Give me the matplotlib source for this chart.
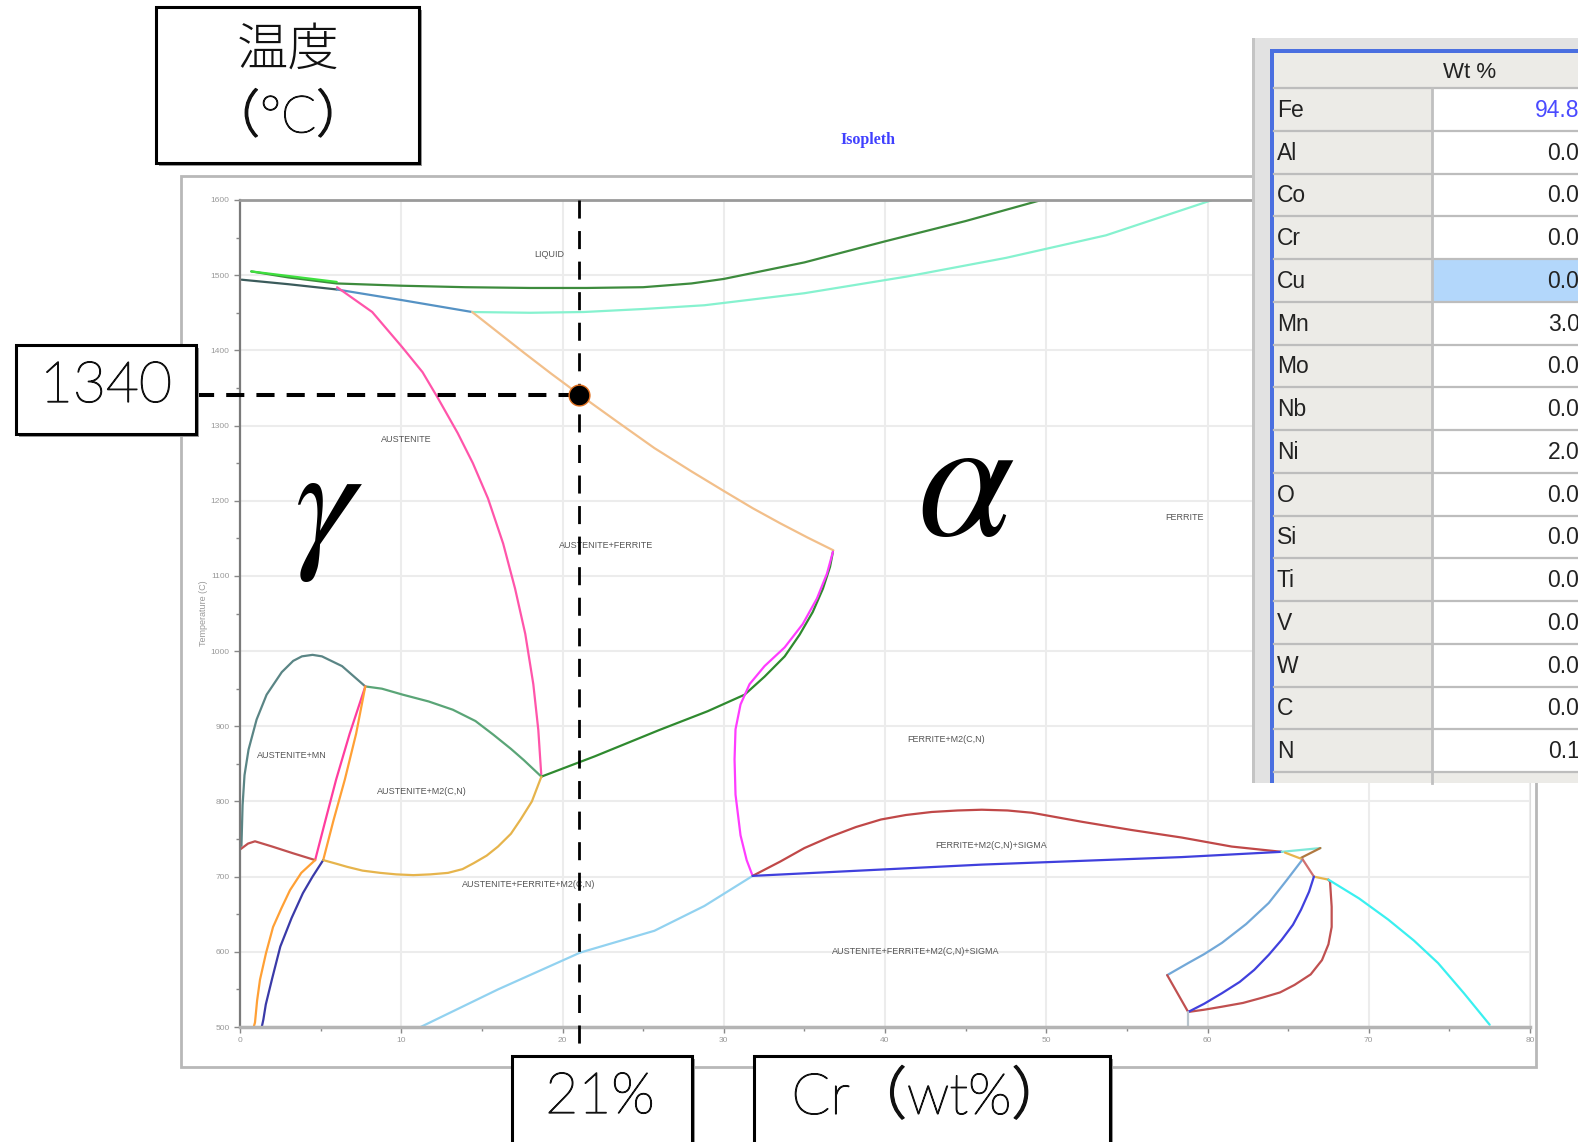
import numpy as np
import matplotlib
matplotlib.use("Agg")
import matplotlib.pyplot as plt
import matplotlib.patheffects as pe
from matplotlib.patches import Rectangle

plt.rcParams['font.family'] = ['Liberation Sans', 'Noto Sans CJK JP', 'DejaVu Sans']
plt.rcParams['mathtext.fontset'] = 'stix'

W, H = 1578, 1142

# phase boundaries: Cr (wt%) vs temperature (C)
liq_x = [0.7, 3, 6, 10, 14, 18, 21.5, 25, 28, 30, 35, 40, 45, 49.7]
liq_t = [1505, 1497, 1489, 1486, 1484, 1483, 1483, 1484, 1489, 1495, 1517, 1545, 1572, 1600]
liq2_x = [0.7, 6]
liq2_t = [1505, 1491]
sol1_x = [0.1, 3, 6.0]
sol1_t = [1494, 1488, 1481]
sol2_x = [6.0, 10, 14.4]
sol2_t = [1481, 1467, 1451]
delta_x = [14.4, 18, 21.3, 25, 28.8, 35, 41.3, 47.5, 53.7, 60.3]
delta_t = [1451, 1450, 1451, 1455, 1460, 1476, 1498, 1523, 1553, 1600]
fer_x = [14.4, 16.0, 17.6, 19.3, 21, 23.4, 25.7, 28.0, 30, 31.8, 33.5, 35.2, 36.8]
fer_t = [1451, 1424, 1397, 1369, 1342, 1305, 1270, 1239, 1213, 1190, 1170, 1151, 1134]
aus_x = [6.02, 8.2, 10.07, 11.32, 12.26, 13.5, 14.44, 15.38, 16.32, 17.06, 17.69, 18.19, 18.5, 18.69]
aus_t = [1484, 1451, 1404, 1371, 1337, 1290, 1250, 1203, 1143, 1083, 1023, 956, 895, 833]
fm_x = [18.69, 22, 26, 29, 31.29, 32.53, 33.78, 34.71, 35.52, 36.15, 36.59, 36.77]
fm_t = [833, 860, 895, 920, 942, 966, 993, 1022, 1052, 1083, 1112, 1132]
mag_x = [36.77, 36.4, 35.78, 34.9, 33.78, 32.53, 31.6, 31.04, 30.73, 30.67, 30.73, 31.04, 31.42, 31.79]
mag_t = [1132, 1103, 1070, 1036, 1005, 980, 956, 929, 896, 856, 809, 755, 722, 701]
mn_x = [0.09, 0.16, 0.28, 0.53, 1.03, 1.65, 2.59, 3.3, 3.84, 4.5, 5.08, 6.33, 7.77]
mn_t = [741, 795, 835, 869, 909, 942, 972, 987, 993, 995, 993, 980, 953]
m2_x = [7.77, 8.8, 10.1, 11.7, 13.2, 14.6, 15.7, 16.8, 17.6, 18.69]
m2_t = [953, 950, 942, 933, 922, 907, 889, 870, 855, 833]
pk_x = [7.77, 6.8, 5.96, 5.3, 4.66]
pk_t = [953, 890, 829, 775, 722]
or_x = [7.77, 7.2, 6.5, 5.8, 5.16]
or_t = [953, 890, 829, 775, 722]
red_l_x = [0.0, 0.5, 0.93, 2.0, 3.3, 4.66]
red_l_t = [736, 744, 747, 740, 731, 722]
or_l_x = [4.66, 3.8, 3.1, 2.57, 2.05, 1.61, 1.24, 1.06, 0.93, 0.85]
or_l_t = [722, 705, 682, 658, 633, 598, 563, 535, 506, 500]
nv_x = [5.16, 4.5, 3.9, 3.2, 2.5, 2.0, 1.6, 1.45, 1.35]
nv_t = [722, 700, 678, 645, 607, 565, 530, 510, 500]
gold_x = [5.16, 6.0, 6.65, 7.6, 8.7, 9.7, 10.75, 11.8, 12.9, 13.8, 14.5, 15.3, 16.0, 16.8, 17.4, 18.1, 18.69]
gold_t = [722, 717, 713, 708, 705, 703, 702, 703, 705, 710, 718, 728, 740, 757, 776, 800, 833]
lb_x = [11.2, 16, 21.1, 25.7, 28.8, 31.79]
lb_t = [500, 550, 599, 628, 661, 701]
sig_x = [31.79, 33.5, 35.0, 36.6, 38.2, 39.75, 41.3, 42.9, 44.5, 46.0, 47.6, 49.1, 52.2, 55.3, 58.4, 61.5, 64.6]
sig_t = [701, 720, 738, 753, 766, 776, 782, 786, 788, 789, 788, 785, 773, 762, 752, 740, 733]
bl_x = [31.79, 46.0, 58.4, 64.6]
bl_t = [701, 716, 726, 733]
aq_x = [64.6, 67.0]
aq_t = [733, 738]
br_x = [65.8, 67.0]
br_t = [725, 738]
gs_x = [64.8, 65.9]
gs_t = [732, 723]
st_x = [65.9, 64.9, 63.8, 62.4, 60.9, 59.8, 58.8, 57.5]
st_t = [723, 695, 665, 637, 612, 597, 585, 569]
rs_x = [65.9, 66.6]
rs_t = [723, 700]
gs2_x = [66.6, 67.5]
gs2_t = [700, 696]
rl_x = [67.5, 67.6, 67.7, 67.7, 67.5, 67.1, 66.4, 65.4, 64.5, 63.4, 62.2, 60.9, 59.8, 58.8, 57.5]
rl_t = [696, 693, 660, 633, 610, 589, 570, 556, 546, 539, 532, 527, 523, 520, 569]
bloop_x = [66.6, 66.3, 65.8, 65.3, 64.6, 63.8, 62.9, 62.0, 60.9, 59.8, 58.8]
bloop_t = [700, 680, 656, 636, 616, 596, 576, 560, 545, 531, 520]
gv_x = [58.8, 58.8]
gv_t = [520, 500]
cy_x = [67.5, 69.4, 71.2, 72.8, 74.3, 75.9, 77.5]
cy_t = [696, 671, 643, 615, 585, 545, 503]

curves = [
    (liq_x, liq_t, '#3d8b3d'), (liq2_x, liq2_t, '#3ee03e'),
    (sol1_x, sol1_t, '#3b5b5b'), (sol2_x, sol2_t, '#5592c4'),
    (delta_x, delta_t, '#86f2cf'), (fer_x, fer_t, '#f2bf8a'),
    (aus_x, aus_t, '#ff55aa'), (fm_x, fm_t, '#2f8a2f'),
    (mag_x, mag_t, '#ff3cff'), (mn_x, mn_t, '#5a8585'),
    (m2_x, m2_t, '#5aa577'), (pk_x, pk_t, '#ff3d9e'),
    (or_x, or_t, '#ffa035'), (red_l_x, red_l_t, '#c05050'),
    (or_l_x, or_l_t, '#ffa035'), (nv_x, nv_t, '#3a3aa8'),
    (gold_x, gold_t, '#e6b44c'), (lb_x, lb_t, '#92d2f0'),
    (sig_x, sig_t, '#c04848'), (bl_x, bl_t, '#4040dd'),
    (aq_x, aq_t, '#7ee8d8'), (br_x, br_t, '#b07840'),
    (gs_x, gs_t, '#e6b44c'), (st_x, st_t, '#72a8d8'),
    (rs_x, rs_t, '#d07070'), (gs2_x, gs2_t, '#e6b44c'),
    (rl_x, rl_t, '#c05050'), (bloop_x, bloop_t, '#4040dd'),
    (gv_x, gv_t, '#b8c4cc'), (cy_x, cy_t, '#3af0f0'),
]

phase_names = ['LIQUID', 'AUSTENITE', 'AUSTENITE+FERRITE', 'FERRITE', 'AUSTENITE+MN',
               'AUSTENITE+M2(C,N)', 'AUSTENITE+FERRITE+M2(C,N)', 'FERRITE+M2(C,N)',
               'FERRITE+M2(C,N)+SIGMA', 'AUSTENITE+FERRITE+M2(C,N)+SIGMA']
phase_x = [19.2, 10.3, 22.7, 58.6, 3.2, 11.3, 17.9, 43.8, 46.6, 41.9]
phase_t = [1527, 1282, 1140, 1178, 861, 813, 689, 882, 741, 600]

cr_pick = 21
t_pick = 1340

elements = ['Fe', 'Al', 'Co', 'Cr', 'Cu', 'Mn', 'Mo', 'Nb', 'Ni', 'O', 'Si', 'Ti', 'V', 'W', 'C', 'N']
wt_pct = [94.83, 0, 0, 0, 0, 3.0, 0, 0, 2.0, 0, 0, 0, 0, 0, 0, 0.17]

fig = plt.figure(figsize=(W / 100, H / 100), dpi=100)
fig.patch.set_facecolor('white')

ax = fig.add_axes([240 / W, 1 - 1027 / H, (1530 - 240) / W, (1027 - 200) / H])
for cx, ct, col in curves:
    ax.plot(cx, ct, color=col, lw=1.6, solid_capstyle='round', solid_joinstyle='round')

for name, px, pt in zip(phase_names, phase_x, phase_t):
    ax.text(px, pt, name, fontsize=6.5, color='#555555', ha='center', va='center')

ax.text(5.5, 1184, r'$\gamma$', fontsize=110, ha='center', va='center', color='black')
ax.text(45.0, 1215, r'$\alpha$', fontsize=125, ha='center', va='center', color='black')

ax.set_xlim(0, 80)
ax.set_ylim(500, 1600)
ax.set_xticks(np.arange(0, 81, 10))
ax.set_xticks(np.arange(0, 81, 5), minor=True)
ax.set_yticks(np.arange(500, 1601, 100))
ax.set_yticks(np.arange(500, 1601, 50), minor=True)
ax.grid(True, which='major', color='#ececec', lw=1.5)
ax.set_axisbelow(True)
ax.tick_params(which='both', labelsize=6, labelcolor='#999999', color='#888888')
ax.tick_params(which='major', length=4, width=1)
ax.tick_params(which='minor', length=3, width=1)
ax.set_ylabel('Temperature (C)', fontsize=6.5, color='#999999', labelpad=2)
ax.spines['left'].set_color('#7a7a7a')
ax.spines['left'].set_linewidth(1.6)
ax.spines['top'].set_color('#9a9a9a')
ax.spines['top'].set_linewidth(2)
ax.spines['bottom'].set_color('#b4b4b4')
ax.spines['bottom'].set_linewidth(2.5)
ax.spines['right'].set_color('#dddddd')

# guide lines to the picked composition / temperature
ax.plot([-2.7, cr_pick], [t_pick, t_pick], color='black', lw=2.9, dashes=(4.5, 3),
        clip_on=False, zorder=6)
ax.plot([cr_pick, cr_pick], [1600, 455], color='black', lw=2, dashes=(6.5, 4.5),
        clip_on=False, zorder=6)
ax.plot([cr_pick], [t_pick], 'o', ms=15, mfc='black', mec='#e07020', mew=1,
        clip_on=False, zorder=7)

# overlay in pixel coordinates for panel frame, call-out boxes and composition table
ov = fig.add_axes([0, 0, 1, 1])
ov.set_xlim(0, W)
ov.set_ylim(H, 0)
ov.axis('off')
ov.set_zorder(5)

ov.add_patch(Rectangle((181, 176), 1536 - 181, 1067 - 176, fill=False, ec='#b8b8b8', lw=2))
ov.text(868, 140, 'Isopleth', fontsize=11.5, color='#4040ff', fontweight='bold',
        family=['Liberation Serif'], ha='center', va='center')

big_font = ['Lato', 'Noto Sans CJK JP', 'DejaVu Sans']
thicken = [pe.withStroke(linewidth=0.9, foreground='#111111')]


def callout(x0, y0, x1, y1, lines, size):
    ov.add_patch(Rectangle((x0 + 3, y0 + 3), x1 - x0, y1 - y0, fc='#9a9a9a', ec='none', zorder=3))
    ov.add_patch(Rectangle((x0, y0), x1 - x0, y1 - y0, fc='white', ec='black', lw=2.2, zorder=4))
    for tx, ty, s, bold_up in lines:
        ov.text(tx, ty, s, fontsize=size, ha='center', va='center', zorder=5,
                family=big_font, fontweight='light', color='#111111',
                path_effects=thicken if bold_up else None)


callout(156, 7, 419, 163, [(288, 50, '温度', False), (288, 117, '（°C）', True)], 37)
callout(16, 345, 196, 434, [(106, 386, '1340', True)], 41)
callout(512, 1056, 692, 1160, [(600, 1097, f'{cr_pick}%', True)], 41)
callout(754, 1056, 1110, 1160, [(930, 1097, 'Cr（wt%）', True)], 41)

# composition table
tx0 = 1252
ov.add_patch(Rectangle((tx0, 38), W - tx0 + 5, 783 - 38, fc='#e2e2e2', ec='none'))
ov.add_patch(Rectangle((tx0, 38), 3, 783 - 38, fc='#c4c4c4', ec='none'))
ov.add_patch(Rectangle((1270, 49), W - 1270 + 5, 4, fc='#4a6fe0', ec='none'))
ov.add_patch(Rectangle((1270, 49), 4, 783 - 49, fc='#4a6fe0', ec='none'))
ov.add_patch(Rectangle((1274, 53), W - 1274 + 5, 783 - 53, fc='#ecebe7', ec='none'))
ov.text(1470, 72, 'Wt %', fontsize=16, color='#222222', ha='center', va='center')
row_top = 88
row_h = 42.75
for i, (el, val) in enumerate(zip(elements, wt_pct)):
    y0 = row_top + i * row_h
    cell_col = '#b3d7fb' if el == 'Cu' else 'white'
    ov.add_patch(Rectangle((1433, y0), W - 1433 + 5, row_h, fc=cell_col, ec='none'))
    ov.plot([1274, W + 5], [y0, y0], color='#bdbdbd', lw=1.6)
    ov.text(1277, y0 + row_h / 2 + 1, el, fontsize=16.5, color='#222222', ha='left', va='center')
    ov.text(1605, y0 + row_h / 2 + 1, f'{val:.3f}', fontsize=16.5,
            color='#4a4aff' if el == 'Fe' else '#222222', ha='right', va='center')
ov.plot([1274, W + 5], [row_top + len(elements) * row_h] * 2, color='#bdbdbd', lw=1.6)
ov.plot([1432, 1432], [row_top, 783], color='#c0c0c0', lw=2)

fig.savefig('out.png', dpi=100)
